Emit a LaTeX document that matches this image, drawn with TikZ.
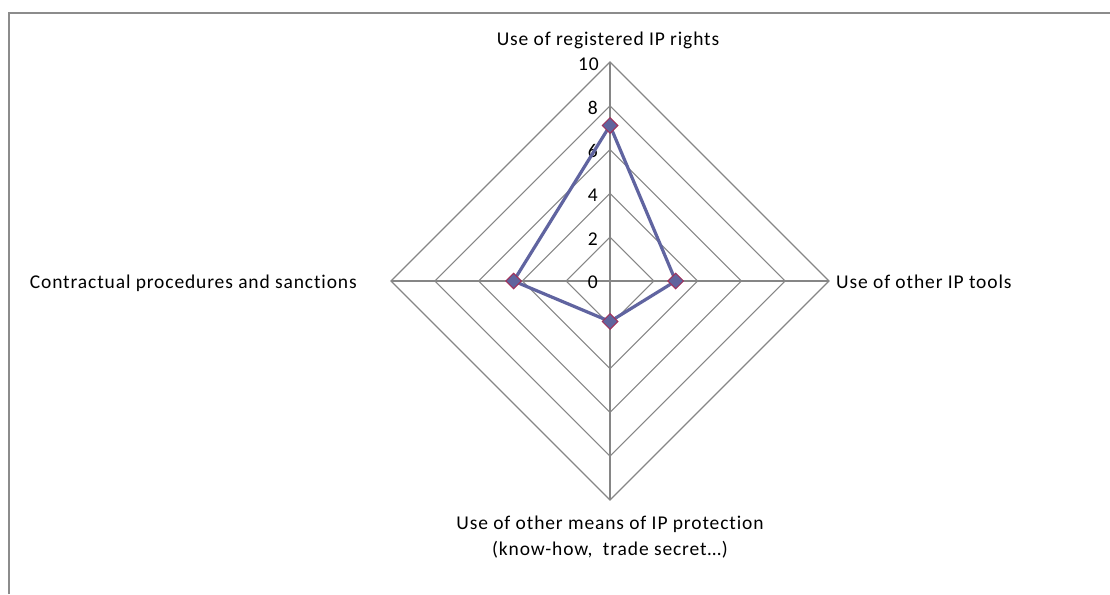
\documentclass[tikz,border=0pt]{standalone}
\usepackage{fontspec}
\setmainfont{Carlito}
\newfontfamily\lblfont[LetterSpace=4.5,Ligatures={NoCommon}]{Carlito}
\usetikzlibrary{shapes.geometric,calc}
\definecolor{gridgray}{HTML}{868686}
\definecolor{framegray}{HTML}{8C8C8C}
\definecolor{serieslin}{HTML}{6064A0}
\definecolor{markfill}{HTML}{60649E}
\definecolor{markedge}{HTML}{A0305A}
\tikzset{
  gridline/.style={draw=gridgray, line width=1.1pt},
  serie/.style={draw=serieslin, line width=3.2pt, line join=round},
  datamark/.style={diamond, fill=markfill, draw=markedge, line width=1pt, minimum width=16pt, minimum height=16pt, inner sep=0pt},
  axlabel/.style={font=\lblfont\fontsize{19.5}{22}\selectfont, text=black, inner sep=0pt},
  ticklabel/.style={font=\lblfont\fontsize{19.5}{22}\selectfont, text=black, inner sep=0pt, anchor=east}
}
\begin{document}
\begin{tikzpicture}[x=1pt,y=-1pt]
\useasboundingbox (0,0) rectangle (1110,594);
\fill[white] (0,0) rectangle (1110,594);
\draw[framegray, line width=2pt] (8.5,594) -- (8.5,13.5) -- (1110,13.5);
\coordinate (C) at (610,281);
% rings
\foreach \r in {43.8,87.6,131.4,175.2,219}{
  \draw[gridline] ($(C)+(0,-\r)$) -- ($(C)+(\r,0)$) -- ($(C)+(0,\r)$) -- ($(C)+(-\r,0)$) -- cycle;
}
\draw[gridline] ($(C)+(0,-219)$) -- ($(C)+(0,219)$);
\draw[gridline] ($(C)+(-219,0)$) -- ($(C)+(219,0)$);
% tick labels
\node[ticklabel] (t0) at (598,282) {0};
\node[ticklabel] (t2) at (598,239) {2};
\node[ticklabel] (t4) at (598,195) {4};
\node[ticklabel] (t6) at (598,151) {6};
\node[ticklabel] (t8) at (598,108) {8};
\node[ticklabel] (t10) at (599,64) {10};
% data
\coordinate (pT) at (610,125.5);
\coordinate (pR) at (675.7,281);
\coordinate (pB) at (610,321.5);
\coordinate (pL) at (513.6,281);
\draw[serie] (pT) -- (pR) -- (pB) -- (pL) -- cycle;
\node[datamark] (mT) at (pT) {};
\node[datamark] (mR) at (pR) {};
\node[datamark] (mB) at (pB) {};
\node[datamark] (mL) at (pL) {};
% axis labels
\node[axlabel, anchor=base] (lT) at (608,46) {Use of registered IP rights};
\node[axlabel, anchor=base west] (lR) at (836,288) {Use of other IP tools};
\node[axlabel, anchor=base east] (lL) at (357,288) {Contractual procedures and sanctions};
\node[axlabel, anchor=base] (lB1) at (610,529) {Use of other means of IP protection};
\node[axlabel, anchor=base] (lB2) at (610,555) {(know-how,\ \ trade secret…)};
\end{tikzpicture}
\end{document}
